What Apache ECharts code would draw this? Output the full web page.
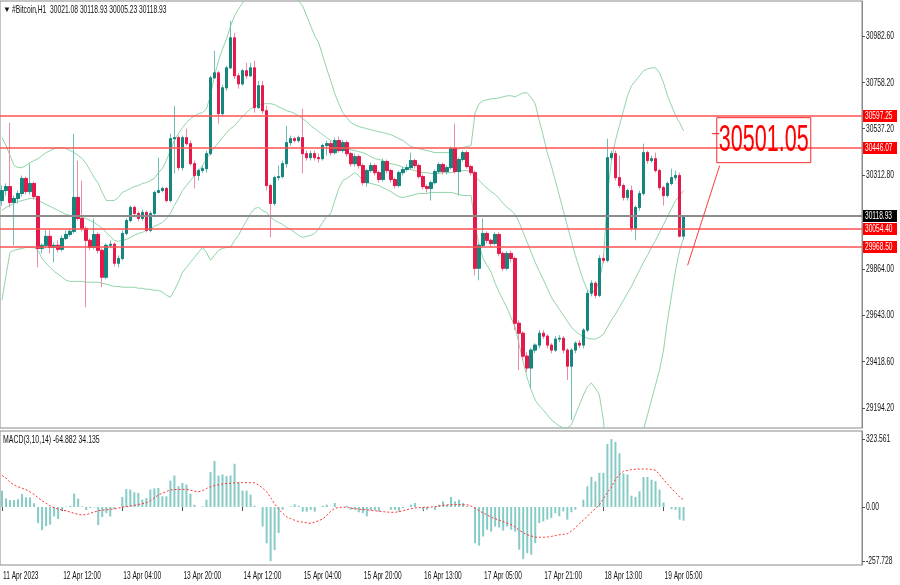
<!DOCTYPE html>
<html><head><meta charset="utf-8">
<script src="https://cdn.jsdelivr.net/npm/echarts@6/dist/echarts.min.js"></script>
<style>html,body{margin:0;padding:0;background:#fff}#c{width:900px;height:585px}</style>
</head><body><div id="c"></div>
<script>
const xLabels = ['11 Apr 2023','12 Apr 12:00','13 Apr 04:00','13 Apr 20:00','14 Apr 12:00','15 Apr 04:00','15 Apr 20:00','16 Apr 13:00','17 Apr 05:00','17 Apr 21:00','18 Apr 13:00','19 Apr 05:00'];
const opens = [
30192,30240,30259,30183,30202,30226,30298,30235,30274,30211,
29962,29977,30020,29967,29977,29958,30010,30029,30044,30207,
30106,30058,30001,29967,30029,29953,29824,29977,29982,29891,
29914,30034,30096,30159,30130,30106,30135,30049,30130,30231,
30240,30250,30192,30489,30494,30350,30494,30465,30369,30312,
30336,30345,30417,30781,30805,30609,30733,30829,30973,30791,
30752,30815,30791,30829,30638,30743,30623,30264,30178,30302,
30307,30369,30470,30489,30480,30494,30417,30398,30417,30398,
30393,30456,30465,30422,30480,30432,30470,30417,30369,30403,
30360,30278,30336,30360,30326,30293,30379,30336,30293,30264,
30326,30341,30350,30384,30360,30307,30259,30250,30278,30331,
30365,30331,30350,30441,30331,30389,30422,30355,30326,29867,
29977,30034,30001,29986,30029,29938,29867,29938,29914,29603,
29555,29445,29388,29474,29498,29555,29541,29498,29474,29527,
29531,29474,29397,29474,29507,29498,29570,29747,29795,29737,
29914,29905,30398,30417,30302,30264,30207,30240,30058,30159,
30226,30422,30384,30393,30336,30254,30216,30274,30302,30312,
30021.08];
const closes = [
30240,30259,30183,30202,30226,30298,30235,30274,30211,29962,
29977,30020,29967,29977,29958,30010,30029,30044,30207,30106,
30058,30001,29967,30029,29953,29824,29977,29982,29891,29914,
30034,30096,30159,30130,30106,30135,30049,30130,30231,30240,
30250,30192,30489,30494,30350,30494,30465,30369,30312,30336,
30345,30417,30781,30805,30609,30733,30829,30973,30791,30752,
30815,30791,30829,30638,30743,30623,30264,30178,30302,30307,
30369,30470,30489,30480,30494,30417,30398,30417,30398,30393,
30456,30465,30422,30480,30432,30470,30417,30369,30403,30360,
30278,30336,30360,30326,30293,30379,30336,30293,30264,30326,
30341,30350,30384,30360,30307,30259,30250,30278,30331,30365,
30331,30350,30441,30331,30389,30422,30355,30326,29867,29977,
30034,30001,29986,30029,29938,29867,29938,29914,29603,29555,
29445,29388,29474,29498,29555,29541,29498,29474,29527,29531,
29474,29397,29474,29507,29498,29570,29747,29795,29737,29914,
29905,30398,30417,30302,30264,30207,30240,30058,30159,30226,
30422,30384,30393,30336,30254,30216,30274,30302,30312,30021.08,
30118.93];
const highs = [
30264,30274,30566,30216,30240,30312,30307,30369,30283,30216,
29986,30049,30049,29991,30001,30025,30049,30058,30513,30384,
30288,30068,30010,30106,30039,29962,29986,30001,29991,29929,
30049,30106,30168,30168,30140,30149,30144,30140,30240,30398,
30259,30259,30513,30647,30504,30504,30537,30480,30384,30345,
30360,30432,30791,30911,30815,30748,30839,31054,30997,30805,
30824,30853,30853,30863,30767,30767,30647,30274,30312,30360,
30384,30551,30504,30499,30504,30633,30432,30432,30432,30417,
30465,30480,30480,30494,30499,30484,30480,30427,30417,30413,
30369,30345,30374,30369,30336,30393,30389,30345,30302,30336,
30355,30365,30422,30393,30369,30317,30269,30288,30341,30374,
30374,30360,30451,30561,30398,30432,30432,30365,30336,29986,
30106,30044,30010,30039,30039,29948,29948,29953,29924,29618,
29565,29464,29483,29507,29570,29570,29550,29507,29541,29546,
29541,29483,29483,29517,29522,29579,29761,29809,29804,29929,
29934,30489,30432,30432,30408,30274,30250,30264,30168,30240,
30465,30432,30408,30422,30345,30264,30283,30345,30336,30326,
30118.93];
const lows = [
30168,30216,30159,29977,30178,30211,30221,30221,30197,29871,
29938,29962,29938,29895,29943,29948,30001,30020,30034,30096,
30044,29680,29953,29958,29938,29776,29814,29962,29876,29871,
29905,30025,30087,30120,30092,30096,30039,30039,30120,30226,
30231,30183,30183,30322,30336,30336,30456,30360,30250,30288,
30326,30326,30408,30776,30561,30599,30719,30824,30776,30729,
30743,30776,30786,30614,30633,30609,30240,30015,30168,30288,
30298,30350,30456,30470,30470,30322,30384,30384,30384,30374,
30384,30408,30408,30413,30422,30422,30403,30355,30355,30345,
30264,30259,30326,30312,30278,30283,30322,30278,30250,30254,
30312,30331,30341,30345,30298,30245,30231,30192,30269,30322,
30317,30317,30341,30322,30216,30379,30345,30312,29833,29809,
29967,29986,29972,29977,29924,29852,29857,29895,29570,29378,
29426,29369,29292,29459,29483,29527,29483,29459,29464,29512,
29459,29330,29139,29459,29483,29483,29560,29732,29723,29728,
29891,29895,30384,30288,30250,30192,30192,30044,30001,30144,
30216,30369,30374,30326,30240,30168,30207,30264,30288,30015,
30005.23];
const bbUpper = [
30494,30456,30408,30360,30350,30350,30360,30374,30384,30393,
30408,30422,30432,30441,30446,30446,30441,30432,30422,30408,
30393,30369,30336,30302,30274,30231,30192,30192,30192,30207,
30231,30240,30250,30259,30264,30274,30278,30288,30298,30326,
30345,30384,30432,30480,30513,30542,30566,30585,30599,30609,
30614,30633,30695,30791,30863,30920,30968,31030,31078,31112,
31140,31174,31198,31222,31236,31246,31246,31236,31222,31207,
31198,31184,31174,31160,31150,31126,31078,31030,30982,30949,
30887,30824,30767,30705,30657,30614,30590,30566,30556,30547,
30542,30537,30532,30527,30523,30518,30513,30508,30499,30489,
30480,30465,30451,30446,30441,30436,30432,30427,30422,30422,
30422,30422,30422,30432,30441,30446,30451,30456,30614,30657,
30671,30676,30681,30681,30685,30690,30695,30695,30690,30700,
30709,30709,30685,30657,30575,30503,30422,30360,30288,30216,
30144,30072,30001,29929,29867,29809,29761,29752,29761,29809,
29905,30216,30384,30480,30551,30623,30695,30743,30767,30791,
30815,30824,30829,30829,30805,30757,30695,30647,30599,30566,
30527];
const bbMiddle = [
30144,30159,30168,30178,30187,30192,30197,30202,30202,30192,
30183,30173,30164,30154,30144,30135,30125,30120,30120,30116,
30111,30106,30096,30087,30072,30058,30039,30020,30001,29996,
30001,30005,30015,30025,30034,30039,30049,30058,30068,30077,
30087,30106,30130,30168,30202,30240,30264,30288,30312,30336,
30360,30393,30422,30446,30470,30494,30518,30537,30551,30575,
30595,30614,30633,30642,30652,30657,30657,30657,30652,30642,
30633,30623,30618,30609,30599,30585,30571,30551,30537,30523,
30508,30494,30480,30470,30460,30451,30441,30436,30432,30427,
30422,30413,30403,30393,30389,30384,30374,30369,30365,30360,
30350,30345,30341,30336,30331,30326,30326,30322,30322,30322,
30326,30326,30326,30331,30331,30336,30336,30331,30307,30288,
30269,30250,30235,30221,30202,30178,30159,30144,30125,30087,
30039,29991,29943,29895,29852,29814,29771,29728,29699,29670,
29641,29613,29584,29565,29550,29541,29531,29527,29527,29536,
29550,29584,29618,29646,29680,29713,29747,29780,29819,29857,
29895,29929,29967,30001,30039,30077,30116,30154,30192,30216,
30240];
const bbLower = [
29713,29833,29943,29953,29958,29962,29967,29967,29967,29953,
29914,29891,29871,29852,29838,29824,29809,29804,29804,29804,
29804,29800,29800,29800,29800,29795,29790,29785,29780,29780,
29776,29776,29776,29776,29771,29771,29766,29766,29761,29761,
29752,29737,29728,29761,29800,29847,29871,29895,29919,29943,
29967,29943,29905,29929,29953,29962,29967,29967,30001,30025,
30063,30096,30130,30154,30159,30144,30135,30111,30096,30087,
30077,30063,30053,30039,30025,30015,30020,30025,30034,30058,
30087,30116,30130,30192,30250,30288,30298,30312,30326,30312,
30288,30278,30274,30269,30264,30254,30245,30235,30221,30211,
30207,30211,30216,30221,30226,30226,30226,30231,30231,30231,
30231,30231,30231,30226,30221,30216,30216,30216,30072,29977,
29914,29881,29847,29795,29752,29713,29675,29628,29584,29498,
29417,29340,29282,29234,29206,29187,29163,29139,29124,29110,
29100,29100,29115,29163,29210,29258,29297,29316,29292,29258,
29139,28899,28755,28708,28684,28708,28755,28803,28875,28971,
29091,29163,29234,29306,29378,29474,29618,29737,29857,29953,
30010];
const macdHist = [
78,41,33,33,37,62,46,46,18,-77,
-110,-91,-84,-45,-57,-13,2,5,64,40,
3,-14,-5,-2,-86,-48,-29,-45,-10,0,
48,86,83,70,67,35,43,83,89,91,
51,51,126,150,99,115,107,64,11,0,
3,35,166,219,150,155,147,150,206,118,
78,78,59,6,0,-93,-173,-257.728,-205,-124,
-13,0,3,13,6,-22,-22,-13,-22,0,
6,11,0,19,0,0,6,-13,-13,-25,
-29,-44,-16,-16,-21,0,0,-13,-13,-21,
-5,0,11,19,0,-13,-13,0,-13,11,
27,11,48,27,35,19,5,0,-172,-184,
-140,-108,-117,-93,-98,-112,-93,-108,-117,-203,
-248,-220,-227,-172,-76,-68,-60,-52,-29,-44,
-21,-60,-25,-13,0,35,99,143,122,163,
163,300,323.561,310,256,160,155,54,48,75,
143,143,130,123,83,22,0,-10,-13,-60,
-64.882];
const macdSignal = [
150,138,118,105,96,90,82,72,60,45,
30,18,5,-3,-10,-15,-18,-24,-30,-35,
-38,-36,-30,-24,-18,-15,-13,-11,-9,-5,
0,2,5,8,12,16,20,30,45,57,
66,74,81,83,84,84,84,80,75,73,
78,88,97,102,106,110,112,113,115,116,
116,116,116,115,105,90,73,45,15,-10,
-30,-46,-55,-63,-70,-72,-75,-78,-72,-65,
-57,-40,-20,-6,-2,0,-2,-5,-8,-10,
-12,-13,-15,-18,-20,-22,-24,-25,-25,-22,
-18,-12,-8,-5,-3,-2,-1,0,2,5,
8,10,11,12,12,11,11,5,-5,-18,
-28,-38,-48,-56,-62,-70,-77,-84,-95,-110,
-122,-132,-138,-143,-144,-144,-143,-140,-136,-132,
-130,-127,-115,-98,-80,-62,-44,-25,-8,11,
40,70,95,130,155,170,174,178,180,181,
181,181,179,175,155,130,110,88,68,48,
34.135];
const priceTicks = [29194.20, 29418.60, 29643.00, 29864.00, 30312.80, 30537.20, 30758.20, 30982.60];
const macdTicks = [323.561, 0, -257.728];
const macdTickLabels = ['323.561', '0.00', '-257.728'];
const redLevels = [30597.25, 30446.07, 30054.40, 29968.50];
const bidPrice = 30118.93;
const targetPrice = 30501.05;
const targetIndex = 190;
const trendFrom = [171, 29881];
const trendTo = [179, 30360];
const titleText = '#Bitcoin,H1  30021.08 30118.93 30005.23 30118.93';
const macdText = 'MACD(3,10,14) -64.882 34.135';

const FONT = '"Liberation Sans",Arial,sans-serif';
const LABEL_STEP = 15, N_CAT = 215;
const categories = Array.from({length: N_CAT}, (_, i) =>
  (i % LABEL_STEP === 0 && i / LABEL_STEP < xLabels.length) ? xLabels[i / LABEL_STEP] : '');
const candles = closes.map((c, i) => [opens[i], c, lows[i], highs[i]]);
// bodies drawn on top in solid colour; full candles underneath show the lighter wicks
const bodies = closes.map((c, i) => [opens[i], c, Math.min(opens[i], c), Math.max(opens[i], c)]);
const UP = '#14867e', DOWN = '#e5194c', UP_W = '#6fbdb6', DOWN_W = '#f08aa3', BB = '#8fd4a6';
const AXIS_X = 862, SX = 0.61, FS = 11;

const chart = echarts.init(document.getElementById('c'));
chart.setOption({
  animation: false,
  backgroundColor: '#fff',
  grid: [
    {left: 0, right: 38, top: 1, height: 427, show: true, borderColor: '#8a8a8a', borderWidth: 1, outerBoundsMode: 'none', containLabel: false},
    {left: 0, right: 38, top: 431, height: 134, show: true, borderColor: '#8a8a8a', borderWidth: 1, outerBoundsMode: 'none', containLabel: false}
  ],
  xAxis: [
    {type: 'category', gridIndex: 0, data: categories, boundaryGap: true,
     axisLine: {show: false}, axisTick: {show: false}, axisLabel: {show: false}, splitLine: {show: false}},
    {type: 'category', gridIndex: 1, data: categories, boundaryGap: true,
     axisLine: {show: false},
     axisTick: {show: true, alignWithLabel: true, length: 4, interval: (i, v) => v !== '', lineStyle: {color: '#555'}},
     axisLabel: {show: false}, splitLine: {show: false}}
  ],
  yAxis: [
    {type: 'value', gridIndex: 0, position: 'right', min: 29100, max: 31150,
     axisLine: {show: true, lineStyle: {color: '#8a8a8a'}},
     axisTick: {show: true, length: 3, customValues: priceTicks, lineStyle: {color: '#555'}},
     axisLabel: {show: false}, splitLine: {show: false}},
    {type: 'value', gridIndex: 1, position: 'right', min: -276, max: 362,
     axisLine: {show: true, lineStyle: {color: '#8a8a8a'}},
     axisTick: {show: true, length: 3, customValues: macdTicks, lineStyle: {color: '#555'}},
     axisLabel: {show: false}, splitLine: {show: false}}
  ],
  series: [
    {type: 'line', name: 'upper', xAxisIndex: 0, yAxisIndex: 0, data: bbUpper, showSymbol: false,
     silent: true, lineStyle: {color: BB, width: 1}, z: 1},
    {type: 'line', name: 'middle', xAxisIndex: 0, yAxisIndex: 0, data: bbMiddle, showSymbol: false,
     silent: true, lineStyle: {color: BB, width: 1}, z: 1},
    {type: 'line', name: 'lower', xAxisIndex: 0, yAxisIndex: 0, data: bbLower, showSymbol: false,
     silent: true, lineStyle: {color: BB, width: 1}, z: 1},
    {type: 'candlestick', name: 'BTC', xAxisIndex: 0, yAxisIndex: 0, data: candles, barWidth: 3, z: 3,
     silent: true,
     itemStyle: {color: UP_W, color0: DOWN_W, borderColor: UP_W, borderColor0: DOWN_W, borderWidth: 1},
     markLine: {
       silent: true, symbol: ['none', 'none'], animation: false, label: {show: false},
       data: [
         ...redLevels.map(v => ({yAxis: v, lineStyle: {color: '#ff5252', width: 1.5, type: 'solid'}})),
         {yAxis: bidPrice, lineStyle: {color: '#8c8c8c', width: 2, type: 'solid'}},
         [{coord: trendFrom, lineStyle: {color: '#ff3b3b', width: 1, type: 'solid'}}, {coord: trendTo}]
       ]
     },
     markPoint: {
       silent: true, animation: false,
       data: [
         {coord: [178, 30513], symbol: 'rect', symbolSize: [7, 1], itemStyle: {color: '#ff0000'},
          label: {show: false}}
       ]
     }},
    {type: 'candlestick', name: 'BTC bodies', xAxisIndex: 0, yAxisIndex: 0, data: bodies, barWidth: 3, z: 4,
     silent: true,
     itemStyle: {color: UP, color0: DOWN, borderColor: UP, borderColor0: DOWN, borderWidth: 1}},
    {type: 'bar', name: 'MACD', xAxisIndex: 1, yAxisIndex: 1, data: macdHist, barWidth: 2,
     itemStyle: {color: '#86cbc6'}, silent: true},
    {type: 'line', name: 'Signal', xAxisIndex: 1, yAxisIndex: 1, data: macdSignal, showSymbol: false,
     silent: true, lineStyle: {color: '#ff3030', width: 1, type: [2, 2]}}
  ]
});

// Condensed text (MT4 style) drawn as graphic text with horizontal scale, placed via axis scales
function txt(x, y, text, o) {
  o = o || {};
  const fs = o.size || FS;
  return {type: 'text', x: x, y: y, scaleX: o.sx || SX, silent: true, z: 100,
    style: {text: text, fill: o.color || '#111', font: fs + 'px ' + FONT,
            fontSize: fs, fontFamily: FONT,
            textAlign: o.align || 'left', align: o.align || 'left',
            textVerticalAlign: 'middle', verticalAlign: 'middle'}};
}
function box(v, bg) {
  const py = Math.round(chart.convertToPixel({yAxisIndex: 0}, v));
  return [
    {type: 'rect', shape: {x: AXIS_X + 1, y: py - 6, width: 34, height: 12}, style: {fill: bg}, silent: true, z: 99},
    txt(AXIS_X + 3, py, v.toFixed(2), {color: '#fff', sx: 0.6})
  ];
}
const g = [];
g.push(txt(3, 10, '▼', {size: 8, sx: 1, color: '#111'}));
g.push(txt(12, 10, titleText));
g.push(txt(3, 440, macdText, {sx: 0.63}));
priceTicks.forEach(v => g.push(txt(AXIS_X + 4, chart.convertToPixel({yAxisIndex: 0}, v), v.toFixed(2))));
macdTicks.forEach((v, k) => g.push(txt(AXIS_X + 4, chart.convertToPixel({yAxisIndex: 1}, v), macdTickLabels[k])));
xLabels.forEach((s, k) => g.push(txt(chart.convertToPixel({xAxisIndex: 1}, k * LABEL_STEP) + 1, 576, s, {sx: 0.6})));
redLevels.forEach(v => g.push(...box(v, '#ff0000')));
g.push(...box(bidPrice, '#000000'));
const tp = chart.convertToPixel({xAxisIndex: 0, yAxisIndex: 0}, [targetIndex, targetPrice]);
g.push({type: 'rect', shape: {x: tp[0] - 47, y: tp[1] - 18.5, width: 94, height: 45}, silent: true, z: 99,
        style: {fill: 'rgba(255,255,255,0)', stroke: '#ff2a2a', lineWidth: 1}});
g.push(txt(tp[0], tp[1] + 4.5, targetPrice.toFixed(2), {size: 36, sx: 0.6, color: '#ff0000', align: 'center'}));
chart.setOption({graphic: g});
</script>
</body></html>
